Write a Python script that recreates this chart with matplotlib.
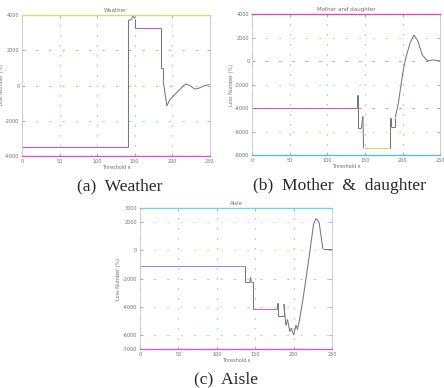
import numpy as np
import matplotlib
matplotlib.use("Agg")
from matplotlib import pyplot as plt
from matplotlib.collections import LineCollection

# (a) Weather
a_x = [0, 141, 141, 146, 148, 150, 150, 185, 185, 188, 188, 193, 197, 205, 212, 218, 224, 230, 236, 243, 250]
a_y = [-3500, -3500, 3700, 3750, 4000, 3800, 3270, 3270, 970, 970, 300, -1150, -800, -450, -150, 100, 0, -200, -150, 0, 50]

# (b) Mother & daughter
b_x = [0, 139, 139, 140, 140, 145, 147, 147, 148, 148, 183, 183, 184, 184, 190, 190, 194, 197, 200, 204, 210, 215, 220, 226, 233, 240, 250]
b_y = [-4000, -4000, -2900, -2900, -5700, -5700, -4700, -4700, -7400, -7400, -7400, -4800, -4800, -5600, -5600, -4800, -3600, -2300, -1000, 300, 1600, 2200, 1700, 500, 0, 100, 0]

# (c) Aisle
c_x = [0, 137, 137, 143, 144, 145, 147, 147, 178, 178, 179, 179, 187, 187, 190, 192, 195, 197, 200, 203, 205, 208, 212, 220, 226, 229, 233, 238, 250]
c_y = [-1100, -1100, -2240, -2240, -1900, -2240, -2240, -4160, -4160, -3760, -3760, -4640, -4640, -3800, -5300, -4900, -5750, -5500, -6000, -5300, -5600, -4800, -3500, -500, 1900, 2250, 2000, 100, 100]

x_ticks = [0, 50, 100, 150, 200, 250]


def draw(ax, xs, ys, title, ylabel, ylim, yticks, flat_colors, top_c, bot_c, grid_colors):
    pts = np.column_stack([xs, ys])
    segs = np.stack([pts[:-1], pts[1:]], axis=1)
    cols = []
    k = 0
    for (x0, y0), (x1, y1) in segs:
        if y0 == y1 and x1 - x0 > 20:
            cols.append(flat_colors[min(k, len(flat_colors) - 1)])
            k += 1
        else:
            cols.append('#777777')
    ax.add_collection(LineCollection(segs, colors=cols, linewidths=0.75))
    ax.set_xlim(0, 250)
    ax.set_ylim(*ylim)
    ax.set_xticks(x_ticks)
    ax.set_yticks(yticks)
    ax.set_yticklabels([str(v) for v in yticks])
    ax.tick_params(direction='in', length=2, width=0.5, labelsize=3.5,
                   colors='#999999', labelcolor='#707070', top=True, right=True, pad=2)
    ax.grid(True, axis='x', linestyle=(0, (1, 7)), linewidth=0.9, color='#b0b0b0')
    ax.grid(True, axis='y', linestyle=(0, (2, 10)), linewidth=0.8, alpha=0.8)
    for gl, c in zip(ax.get_ygridlines(), grid_colors):
        gl.set_color(c)
    for s in ['left', 'right']:
        ax.spines[s].set_color('#c8c8c8')
        ax.spines[s].set_linewidth(0.6)
    ax.spines['top'].set_color(top_c)
    ax.spines['bottom'].set_color(bot_c)
    ax.spines['top'].set_linewidth(1.0)
    ax.spines['bottom'].set_linewidth(1.0)
    ax.set_title(title, fontsize=4, color='#707070', pad=2)
    ax.set_xlabel('Threshold κ', fontsize=3.5, color='#707070', labelpad=1)
    ax.set_ylabel(ylabel, fontsize=3.5, color='#707070', labelpad=1)


fig = plt.figure(figsize=(4.44, 3.88), dpi=100)
fig.patch.set_facecolor('white')

ax1 = fig.add_axes([0.050, 0.598, 0.422, 0.363])
draw(ax1, a_x, a_y, 'Weather', 'Total Number (%)', (-4000, 4000),
     [-4000, -2000, 0, 2000, 4000], ['#d050d8'], '#cde070', '#c860c8',
     ['#c860c8', '#7fd0e0', '#e0a050', '#e09050', '#cde070'])

ax2 = fig.add_axes([0.568, 0.600, 0.424, 0.364])
draw(ax2, b_x, b_y, 'Mother and daughter', 'Loss Number (%)', (-8000, 4000),
     [-8000, -6000, -4000, -2000, 0, 2000, 4000], ['#e85090', '#d0dc60'],
     '#e050a8', '#60b8e8',
     ['#60b8e8', '#c8dc70', '#d060b0', '#90e0d0', '#d060c0', '#c8dc70', '#e050a8'])

ax3 = fig.add_axes([0.315, 0.100, 0.433, 0.364])
draw(ax3, c_x, c_y, 'Aisle', 'Loss Number (%)', (-7000, 3000),
     [-7000, -6000, -4000, -2000, 0, 2000, 3000], ['#9a80e8', '#e060c0'],
     '#70d8d8', '#d060d0',
     ['#d060d0', '#90d8e0', '#c8dc70', '#c8a0e0', '#d8dc70', '#d8dc70', '#70d8d8'])

cap = dict(ha='center', va='center', fontsize=12.6, family='Liberation Serif', color='#2a2a2a')
fig.text(0.270, 0.520, '(a)  Weather', **cap)
fig.text(0.764, 0.520, '(b)  Mother  &  daughter', **cap)
fig.text(0.509, 0.022, '(c)  Aisle', **cap)

plt.savefig('out.png', dpi=100)
